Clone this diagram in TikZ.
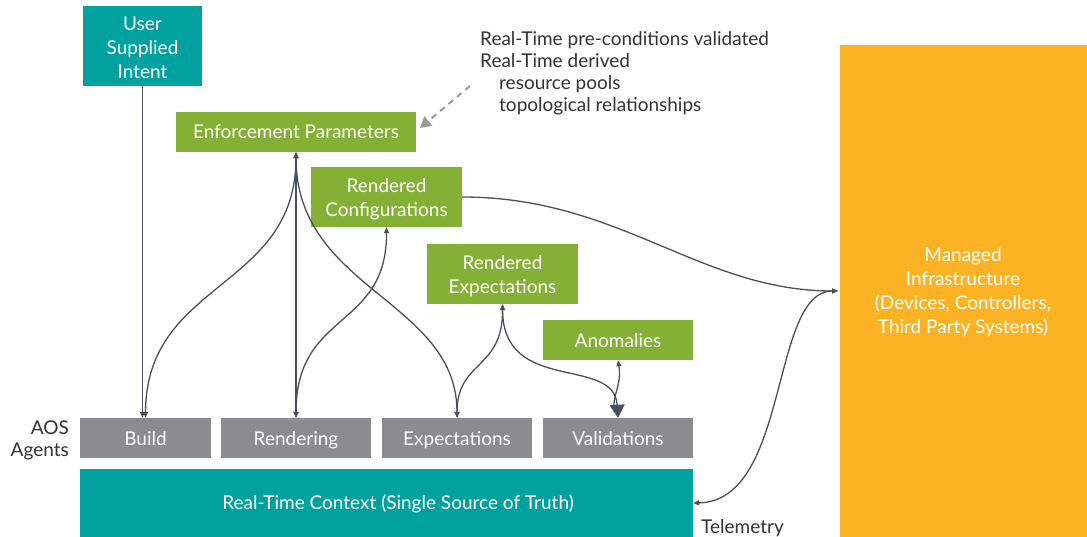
\documentclass[tikz,border=0pt]{standalone}
\usepackage{fontspec}
\setmainfont{Lato}
\usetikzlibrary{arrows.meta}
\definecolor{teal}{HTML}{00A19F}
\definecolor{grn}{HTML}{84B135}
\definecolor{gry}{HTML}{8A8C8E}
\definecolor{org}{HTML}{FBB324}
\definecolor{ln}{HTML}{4B4F58}
\definecolor{txt}{HTML}{333333}
\definecolor{dsh}{HTML}{9A9A9A}
\tikzset{
  box/.style={inner sep=0pt, text=white, align=center, font=\fontsize{19}{23.8}\selectfont},
  one/.style={text height=15pt, text depth=1pt},
  tealbox/.style={box, fill=teal},
  grnbox/.style={box, fill=grn},
  grybox/.style={box, one, fill=gry, minimum width=150pt, minimum height=40pt},
  conn/.style={draw=ln, line width=1.3pt, -{Triangle[length=6pt,width=5pt]}},
  conn2/.style={draw=ln, line width=1.3pt, {Triangle[length=6pt,width=5pt]}-{Triangle[length=6pt,width=5pt]}},
  lbl/.style={text=txt, font=\fontsize{19}{22}\selectfont, inner sep=0pt},
}
\begin{document}
\begin{tikzpicture}[x=1pt,y=-1pt]
\useasboundingbox (0,0) rectangle (1087,537);
% boxes
\node[tealbox, minimum width=119pt, minimum height=80pt] (ui) at (142.5,46) {};
\node[box] (uit) at (142.5,48) {User\\Supplied\\Intent};
\node[grnbox, one, minimum width=240pt, minimum height=40pt] (ep) at (296,132) {Enforcement Parameters};
\node[grnbox, minimum width=151pt, minimum height=60pt] (rc) at (386.5,197) {};
\node[box] (rct) at (386.5,199) {Rendered\\Configurations};
\node[grnbox, minimum width=151pt, minimum height=60pt] (re) at (502.5,274) {};
\node[box] (ret) at (502.5,276) {Rendered\\Expectations};
\node[grnbox, one, minimum width=150pt, minimum height=40pt] (an) at (618,340) {Anomalies};
\node[grybox, minimum width=131pt] (bu) at (145.5,438) {Build};
\node[grybox] (rn) at (296,438) {Rendering};
\node[grybox] (ex) at (457,438) {Expectations};
\node[grybox] (va) at (618,438) {Validations};
\node[tealbox, minimum width=613pt, minimum height=68pt] (rt) at (386.5,503) {};
\node[box, one] (rtt) at (398,502) {Real-Time Context (Single Source of Truth)};
\node[tealbox, fill=org, minimum width=247pt, minimum height=492pt] (mi) at (963.5,291) {};
\node[box] (mit) at (963,292) {Managed\\Infrastructure\\(Devices, Controllers,\\Third Party Systems)};
% labels
\node[lbl, align=right, anchor=east] (aos) at (69,440) {AOS\\Agents};
\node[lbl, anchor=west, one] (tel) at (701,526) {Telemetry};
\node[lbl, anchor=north west, align=left] (ann) at (480,31) {Real-Time pre-conditions validated\\Real-Time derived\\\hspace*{19pt}resource pools\\\hspace*{19pt}topological relationships};
\coordinate (annp) at (470,86);
\coordinate (ept) at (420,128);
\coordinate (mil) at (838,291);
% connectors
\draw[conn] (ui.south) -- (ui.south |- bu.north);
\draw[conn2] (ep.south) -- (ep.south |- rn.north);
\draw[conn2] (ep.south) .. controls (296,290) and (146,280) .. (bu.north);
\draw[conn2] (ep.south) .. controls (296,290) and (457,300) .. (ex.north);
\draw[conn2] (rc.south) .. controls (387,330) and (296,310) .. (rn.north);
\draw[conn2] (re.south) .. controls (503,370) and (457,360) .. (ex.north);
\draw[draw=ln, line width=1.3pt, {Triangle[length=6pt,width=5pt]}-{Triangle[length=13pt,width=15pt]}] (re.south) .. controls (503,395) and (614,355) .. (va.north);
\draw[draw=ln, line width=1.3pt, {Triangle[length=6pt,width=5pt]}-] (an.south) .. controls (622,385) and (612,395) .. (614,412);
\draw[conn] (rc.east) .. controls (620,197) and (700,291) .. (mil);
\draw[conn2] (mil) .. controls (770,291) and (790,501) .. (rt.east);
\draw[draw=dsh, line width=2pt, dash pattern=on 6pt off 5pt, -{Triangle[length=11pt,width=12pt]}] (annp) -- (ept);
\end{tikzpicture}
\end{document}
